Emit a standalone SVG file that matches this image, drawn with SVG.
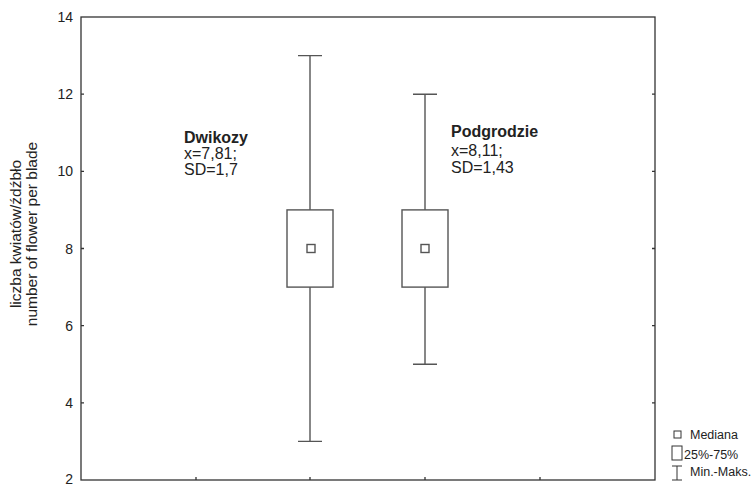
<svg xmlns="http://www.w3.org/2000/svg" width="756" height="486" viewBox="0 0 756 486">
<style>
.t{font-family:"Liberation Sans",Arial,sans-serif;fill:#222}
.ax{font-size:14px}
.yt{font-size:15.5px}
.lbl{font-size:16px}
.b{font-weight:bold}
.lg{font-size:12.5px}
.frame{fill:none;stroke:#333;stroke-width:1.3}
.tick{stroke:#333;stroke-width:1.3}
.w{stroke:#555;stroke-width:1.4;fill:none}
.box{fill:#fff;stroke:#555;stroke-width:1.4}
</style>
<rect width="756" height="486" fill="#fff"/>
<g id="axes">
<rect class="frame" x="81" y="17" width="574" height="463"/>
<path class="tick" d="M81 94.2h3M81 171.3h3M81 248.5h3M81 325.7h3M81 402.8h3M655 94.2h-3M655 171.3h-3M655 248.5h-3M655 325.7h-3M655 402.8h-3M196 480v-3M310 480v-3M425 480v-3M540 480v-3"/>
<g class="t ax" text-anchor="end">
<text x="73" y="22">14</text>
<text x="73" y="99">12</text>
<text x="73" y="176">10</text>
<text x="73" y="253.5">8</text>
<text x="73" y="330.5">6</text>
<text x="73" y="407.5">4</text>
<text x="73" y="484">2</text>
</g>
<g class="t yt" text-anchor="middle">
<text transform="translate(21,234) rotate(-90)">liczba kwiatów/źdźbło</text>
<text transform="translate(37,234) rotate(-90)">number of flower per blade</text>
</g>
</g>
<g id="connectors">
<path class="w" d="M310 55.6V209.9M298 55.6h24M310 287.1V441.4M298 441.4h24"/>
<path class="w" d="M425 94.2V209.9M413 94.2h24M425 287.1V364.3M413 364.3h24"/>
</g>
<g id="dwikozy">
<rect class="box" x="287" y="209.9" width="46" height="77.2"/>
<rect class="box" x="307" y="244.5" width="8" height="8"/>
<text class="t lbl b" x="184" y="143">Dwikozy</text>
<text class="t lbl" x="184" y="159">x=7,81;</text>
<text class="t lbl" x="184" y="175">SD=1,7</text>
</g>
<g id="podgrodzie">
<rect class="box" x="402" y="209.9" width="46" height="77.2"/>
<rect class="box" x="421" y="244.5" width="8" height="8"/>
<text class="t lbl b" x="451" y="137">Podgrodzie</text>
<text class="t lbl" x="451" y="156">x=8,11;</text>
<text class="t lbl" x="451" y="173">SD=1,43</text>
</g>
<g id="legend">
<rect class="box" x="674" y="431" width="7" height="7" style="stroke:#333;stroke-width:1"/>
<text class="t lg" x="690" y="439">Mediana</text>
<rect class="box" x="672" y="446" width="10" height="14" style="stroke:#333;stroke-width:1"/>
<text class="t lg" x="684" y="459">25%-75%</text>
<path d="M672 466h10M677 466v14M672 480h10" style="stroke:#333;stroke-width:1;fill:none"/>
<text class="t lg" x="690" y="476">Min.-Maks.</text>
</g>
</svg>
